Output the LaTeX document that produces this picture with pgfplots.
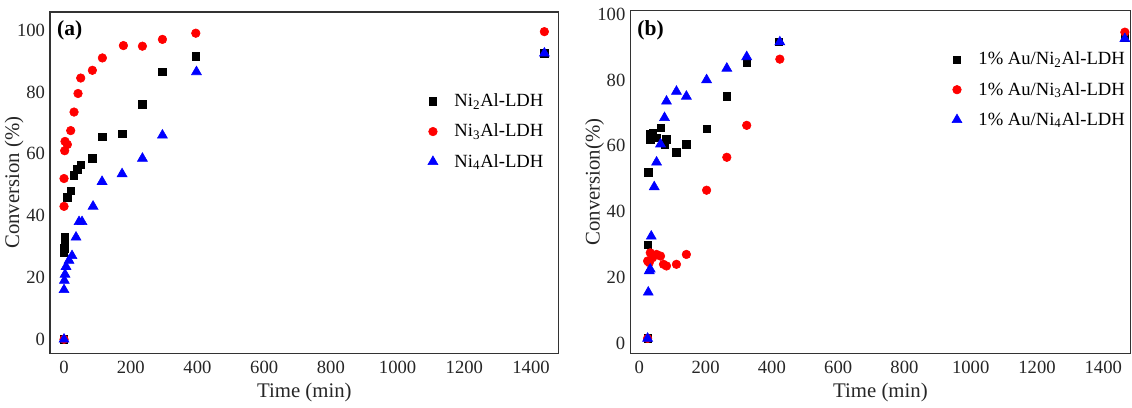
\documentclass[border=0pt]{standalone}
\usepackage{fontspec}
\setmainfont{Liberation Serif}
\usepackage{pgfplots}
\pgfplotsset{compat=1.18}

\definecolor{pblack}{RGB}{0,0,0}
\definecolor{pred}{RGB}{255,0,0}
\definecolor{pblue}{RGB}{0,0,255}

\pgfplotsset{
  conv/.style={
    scale only axis,
    axis line style={draw=black!80, line width=1pt},
    tick style={draw=none},
    major tick length=0pt,
    /pgf/number format/assume math mode=true,
    ticklabel style={font=\fontsize{13}{15}\selectfont, text=black!85},
    label style={font=\fontsize{14.5}{16}\selectfont, text=black!85},
    xtick={0,200,...,1400},
    ytick={0,20,...,100},
    scaled x ticks=false,
    xticklabel style={/pgf/number format/1000 sep={}, yshift=-2pt},
    xlabel={Time (min)},
    every axis y label/.style={at={(rel axis cs:0,0.5)}, xshift=-25pt, rotate=90,
      anchor=center, font=\fontsize{14.5}{16}\selectfont, text=black!85},
    legend cell align=left,
    legend style={draw=none, fill=none, font=\fontsize{13}{15}\selectfont,
      row sep=6.5pt, anchor=north west,
      /tikz/every odd column/.append style={column sep=9.5pt}},
    legend image code/.code={\draw[#1] plot coordinates {(0.2cm,0cm)};},
  },
  sq/.style={only marks, mark=square*, mark size=2.6pt, color=pblack},
  ci/.style={only marks, mark=*, mark size=3pt, color=pred},
  tr/.style={only marks, mark=triangle*, mark size=4pt, color=pblue},
}

\begin{document}
\begin{tikzpicture}
% panel (a)
\begin{axis}[conv, name=A,
  width=355pt, height=238pt,
  xmin=-42, xmax=1483, ymin=-4.5, ymax=105.8,
  ylabel={Conversion (\%)},
  legend style={at={(rel axis cs:0.734,0.778)}},
]
\addplot[sq] coordinates {
(0,0) (0,28) (1,29.5) (2,31) (3,33) (10,46) (20,48) (30,53) (40,55) (50,56.5)
(85,58.5) (115,65.5) (175,66.5) (235,76) (295,86.5) (395,91.5) (1440,92.5)
};
\addlegendentry{Ni\textsubscript{2}Al-LDH}
\addplot[ci] coordinates {
(0,0) (0,43) (0,52) (2,61) (3,64) (10,63) (20,67.5) (30,73.5) (42,79.5) (50,84.5)
(85,87) (115,91) (178,95) (235,94.8) (295,97) (395,99) (1440,99.5)
};
\addlegendentry{Ni\textsubscript{3}Al-LDH}
\addplot[tr] coordinates {
(0,0) (0,16) (1,19) (3,21) (6,23.5) (15,25.5) (24,27) (36,33) (45,38) (54,38)
(87,43) (114,51) (174,53.5) (235,58.5) (295,66) (397,86.5) (1440,92.5)
};
\addlegendentry{Ni\textsubscript{4}Al-LDH}
\node[anchor=north west, font=\fontsize{15}{17}\selectfont\bfseries] at (rel axis cs:0.004,0.99) {(a)};
\end{axis}
\path (A.north west) ++(0pt,8.5pt);

% panel (b)
\begin{axis}[conv,
  at={(405pt,0pt)},
  width=349pt, height=239pt,
  xmin=-27, xmax=1482, ymin=-3, ymax=101,
  ylabel={Conversion(\%)},
  legend style={at={(rel axis cs:0.634,0.897)}},
]
\addplot[sq] coordinates {
(25,1.5) (25,30) (27,52) (33,62) (33,63.5) (40,64) (52,62.5) (64,65.5) (76,60.5)
(82,62) (112,58) (142,60.5) (203,65.2) (264,75) (324,85.4) (421,91.5) (1465,93)
};
\addlegendentry{1\% Au/Ni\textsubscript{2}Al-LDH}
\addplot[ci] coordinates {
(25,1.5) (25,25) (30,24.5) (33,27.5) (40,26) (52,27) (64,26.5) (73,24) (82,23.5)
(112,24) (142,27) (203,46.5) (264,56.5) (324,66.2) (424,86.3) (1465,94.5)
};
\addlegendentry{1\% Au/Ni\textsubscript{3}Al-LDH}
\addplot[tr] coordinates {
(25,1.5) (27,15.5) (30,22) (33,22.5) (36,32.5) (45,47.5) (52,55) (64,60.5) (76,68.5)
(82,73.5) (112,76.5) (142,75) (203,80) (264,83.5) (324,87) (424,91.5) (1465,92.5)
};
\addlegendentry{1\% Au/Ni\textsubscript{4}Al-LDH}
\node[anchor=north west, font=\fontsize{15}{17}\selectfont\bfseries] at (rel axis cs:0.004,0.985) {(b)};
\end{axis}
\end{tikzpicture}
\end{document}
